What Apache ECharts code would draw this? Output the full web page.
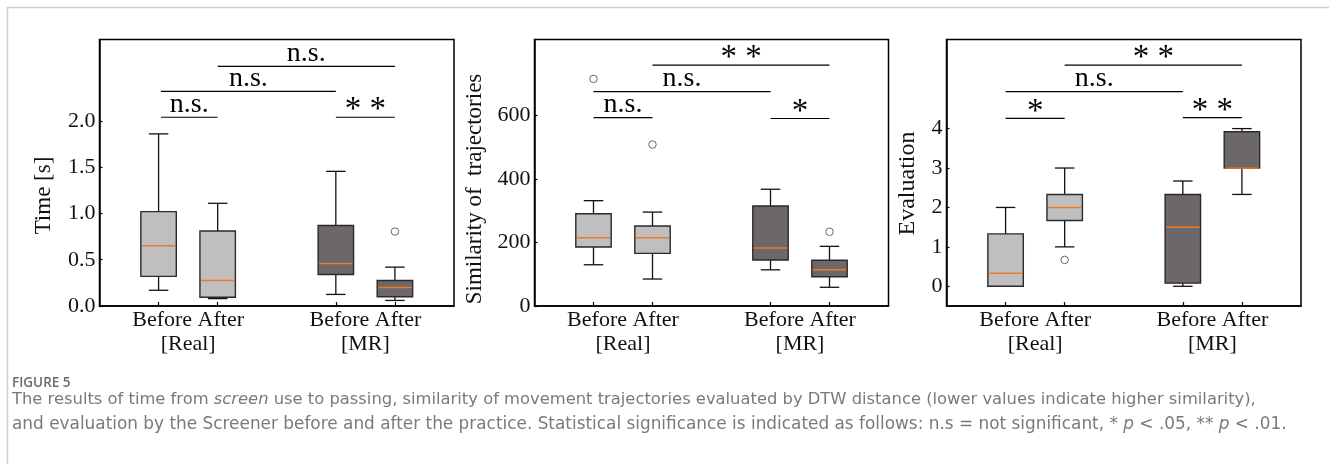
<!DOCTYPE html>
<html>
<head>
<meta charset="utf-8">
<script src="https://cdn.jsdelivr.net/npm/echarts@6/dist/echarts.min.js"></script>
<style>
html,body{margin:0;padding:0;background:#fff;}
#chart{width:1329px;height:464px;}
</style>
</head>
<body>
<div id="chart"></div>
<script>
// ---------- data ----------
const positions = [1, 2, 4, 5];
const groupLabelPositions = [1.5, 4.5];
const conditionLabels = ['Before', 'After'];
const groupLabels = ['[Real]', '[MR]'];
const boxShade = [0, 0, 1, 1]; // 0 = Real (light), 1 = MR (dark)

// each box: [lower whisker, Q1, median, Q3, upper whisker]
const timeBoxes = [
  [0.17, 0.32, 0.65, 1.02, 1.86],
  [0.08, 0.095, 0.275, 0.81, 1.11],
  [0.125, 0.34, 0.46, 0.87, 1.455],
  [0.06, 0.10, 0.20, 0.275, 0.42]
];
const timeOutliers = [[5, 0.805]];
const timeTicks = [0, 0.5, 1.0, 1.5, 2.0];
const timeSig = [[1.04, 2, 2.04, 'n.s.'], [1.04, 4, 2.32, 'n.s.'], [2, 5, 2.59, 'n.s.'], [4, 5, 2.04, '* *']];

const simBoxes = [
  [130, 186, 215, 291, 332],
  [85, 166, 215, 252, 296],
  [114, 145, 183, 315, 368],
  [59, 92, 114, 144, 188]
];
const simOutliers = [[1, 716], [2, 509], [5, 234]];
const simTicks = [0, 200, 400, 600];
const simSig = [[1, 2, 594, 'n.s.'], [1, 4, 676, 'n.s.'], [2, 5, 759, '* *'], [4, 5, 591, '*']];

const evalBoxes = [
  [0, 0, 0.33, 1.33, 2.0],
  [1.0, 1.67, 2.0, 2.33, 3.0],
  [0, 0.08, 1.5, 2.33, 2.67],
  [2.33, 3.0, 3.0, 3.92, 4.0]
];
const evalOutliers = [[2, 0.67]];
const evalTicks = [0, 1, 2, 3, 4];
const evalSig = [[1, 2, 4.26, '*'], [1, 4, 4.94, 'n.s.'], [2, 5, 5.61, '* *'], [4, 5, 4.28, '* *']];

const yNames = ['Time [s]', 'Similarity of  trajectories', 'Evaluation'];
const captionTitle = 'FIGURE 5';
const captionLine1 = 'The results of time from {i|screen} use to passing, similarity of movement trajectories evaluated by DTW distance (lower values indicate higher similarity),';
const captionLine2 = 'and evaluation by the Screener before and after the practice. Statistical significance is indicated as follows: n.s = not significant, * {i|p} < .05, ** {i|p} < .01.';

// ---------- styling / layout ----------
const SERIF = '"Liberation Serif", "Times New Roman", serif';
const SANS = '"DejaVu Sans", "Open Sans", sans-serif';
const fills = ['#c0bfc0', '#6b676a'];
const panels = [
  {boxes: timeBoxes, out: timeOutliers, ticks: timeTicks, sig: timeSig, min: 0, max: 2.88, fmt: v => v.toFixed(1), left: 99.5, width: 354.5, name: yNames[0], nameX: 44, nameY: 195.5, nameSize: 23},
  {boxes: simBoxes, out: simOutliers, ticks: simTicks, sig: simSig, min: 0, max: 840, fmt: v => String(v), left: 534.5, width: 354, name: yNames[1], nameX: 474.5, nameY: 189, nameSize: 23},
  {boxes: evalBoxes, out: evalOutliers, ticks: evalTicks, sig: evalSig, min: -0.5, max: 6.26, fmt: v => String(v), left: 946.5, width: 354.5, name: yNames[2], nameX: 907.5, nameY: 183.5, nameSize: 24}
];
const TOP = 39.5, HEIGHT = 266.5;

const grids = [], xAxes = [], yAxes = [], series = [], graphics = [];

function boxRender(boxRows) {
  return function (params, api) {
    const x = api.value(0);
    const low = api.value(1), q1 = api.value(2), med = api.value(3), q3 = api.value(4), high = api.value(5);
    const shade = boxShade[params.dataIndex];
    const hw = 0.3, cw = 0.165;
    const pLow = api.coord([x, low]), pQ1 = api.coord([x, q1]), pQ3 = api.coord([x, q3]), pHigh = api.coord([x, high]);
    const lq1 = api.coord([x - hw, q1]), rq3 = api.coord([x + hw, q3]);
    const mL = api.coord([x - hw, med]), mR = api.coord([x + hw, med]);
    const cL = api.coord([x - cw, low]), cR = api.coord([x + cw, low]);
    const hL = api.coord([x - cw, high]), hR = api.coord([x + cw, high]);
    const lineStyle = {stroke: '#111', lineWidth: 1.3};
    return {
      type: 'group',
      children: [
        {type: 'line', shape: {x1: pLow[0], y1: pLow[1], x2: pQ1[0], y2: pQ1[1]}, style: lineStyle},
        {type: 'line', shape: {x1: pQ3[0], y1: pQ3[1], x2: pHigh[0], y2: pHigh[1]}, style: lineStyle},
        {type: 'line', shape: {x1: cL[0], y1: cL[1], x2: cR[0], y2: cR[1]}, style: lineStyle},
        {type: 'line', shape: {x1: hL[0], y1: hL[1], x2: hR[0], y2: hR[1]}, style: lineStyle},
        {type: 'rect', shape: {x: lq1[0], y: rq3[1], width: rq3[0] - lq1[0], height: lq1[1] - rq3[1]},
          style: {fill: fills[shade], stroke: '#2a2a2a', lineWidth: 1.4}},
        {type: 'line', shape: {x1: mL[0] + 1, y1: mL[1], x2: mR[0] - 1, y2: mR[1]}, style: {stroke: '#f07a1e', lineWidth: 1.5}}
      ]
    };
  };
}

function sigRender(rows) {
  return function (params, api) {
    const r = rows[params.dataIndex];
    const a = api.coord([r[0], r[2]]), b = api.coord([r[1], r[2]]);
    const star = r[3].indexOf('*') >= 0;
    return {
      type: 'group',
      children: [
        {type: 'line', shape: {x1: a[0], y1: a[1], x2: b[0], y2: b[1]}, style: {stroke: '#000', lineWidth: 1.2}},
        {type: 'text', x: (a[0] + b[0]) / 2, y: a[1] - (star ? 6.5 : 13),
          style: {text: r[3], fontFamily: SERIF, fontSize: star ? 33 : 28, fill: '#000', align: 'center', verticalAlign: 'middle'}}
      ]
    };
  };
}

panels.forEach((p, i) => {
  grids.push({left: p.left, top: TOP, width: p.width, height: HEIGHT, show: true,
    borderColor: '#000', borderWidth: 1.5, backgroundColor: 'transparent'});
  xAxes.push({
    gridIndex: i, type: 'value', min: 0, max: 6,
    axisLine: {show: true, onZero: false, lineStyle: {color: '#000', width: 1.5}},
    axisTick: {show: true, inside: true, length: 4, customValues: positions, lineStyle: {color: '#000', width: 1.2}},
    splitLine: {show: false},
    axisLabel: {
      customValues: groupLabelPositions,
      hideOverlap: false,
      formatter: v => {
        const k = groupLabelPositions.indexOf(v);
        return k >= 0 ? conditionLabels.join(' ') + '\n' + groupLabels[k] : '';
      },
      fontFamily: SERIF, fontSize: 22, color: '#111', lineHeight: 24, margin: 2
    }
  });
  yAxes.push({
    gridIndex: i, type: 'value', min: p.min, max: p.max,
    axisLine: {show: true, onZero: false, lineStyle: {color: '#000', width: 1.5}},
    axisTick: {show: true, inside: true, length: 3, customValues: p.ticks, lineStyle: {color: '#000', width: 1.2}},
    splitLine: {show: false},
    axisLabel: {customValues: p.ticks, formatter: p.fmt, fontFamily: SERIF, fontSize: 22, color: '#111', margin: 4}
  });
  series.push({
    type: 'custom', xAxisIndex: i, yAxisIndex: i,
    data: p.boxes.map((b, k) => [positions[k]].concat(b)),
    encode: {x: 0, y: [1, 2, 3, 4, 5]},
    renderItem: boxRender(p.boxes), silent: true, z: 2
  });
  series.push({
    type: 'scatter', xAxisIndex: i, yAxisIndex: i, data: p.out,
    symbol: 'circle', symbolSize: 7.5,
    itemStyle: {color: '#fff', borderColor: '#444', borderWidth: 1}, silent: true, z: 3
  });
  series.push({
    type: 'custom', xAxisIndex: i, yAxisIndex: i,
    data: p.sig.map(r => [r[0], r[1], r[2]]),
    encode: {x: [0, 1], y: 2},
    renderItem: sigRender(p.sig), silent: true, z: 4
  });
  graphics.push({type: 'text', x: p.nameX, y: p.nameY, rotation: Math.PI / 2,
    style: {text: p.name, fontFamily: SERIF, fontSize: p.nameSize, fill: '#111', align: 'center', verticalAlign: 'middle'}});
});

// frame lines of the page and caption
graphics.push({type: 'line', shape: {x1: 7, y1: 7.5, x2: 1329, y2: 7.5}, style: {stroke: '#cfcfcf', lineWidth: 1.5}});
graphics.push({type: 'line', shape: {x1: 7.5, y1: 7, x2: 7.5, y2: 464}, style: {stroke: '#cfcfcf', lineWidth: 1.5}});
graphics.push({type: 'text', x: 12, y: 383,
  style: {text: captionTitle, fontFamily: '"Open Sans", sans-serif', fontSize: 13.5, fontWeight: 600, fill: '#6a6a6a', align: 'left', verticalAlign: 'middle'}});
const richI1 = {i: {fontFamily: SANS, fontSize: 16.35, fontStyle: 'italic', fill: '#7a7a7a'}};
const richI2 = {i: {fontFamily: SANS, fontSize: 16.9, fontStyle: 'italic', fill: '#7a7a7a'}};
graphics.push({type: 'text', x: 12, y: 399.5,
  style: {text: captionLine1, fontFamily: SANS, fontSize: 16.35, fill: '#7a7a7a', align: 'left', verticalAlign: 'middle', rich: richI1}});
graphics.push({type: 'text', x: 12, y: 425,
  style: {text: captionLine2, fontFamily: SANS, fontSize: 16.9, fill: '#7a7a7a', align: 'left', verticalAlign: 'middle', rich: richI2}});

const chart = echarts.init(document.getElementById('chart'), null, {renderer: 'canvas'});
chart.setOption({
  animation: false,
  backgroundColor: '#fff',
  grid: grids, xAxis: xAxes, yAxis: yAxes, series: series, graphic: graphics
});
</script>
</body>
</html>
